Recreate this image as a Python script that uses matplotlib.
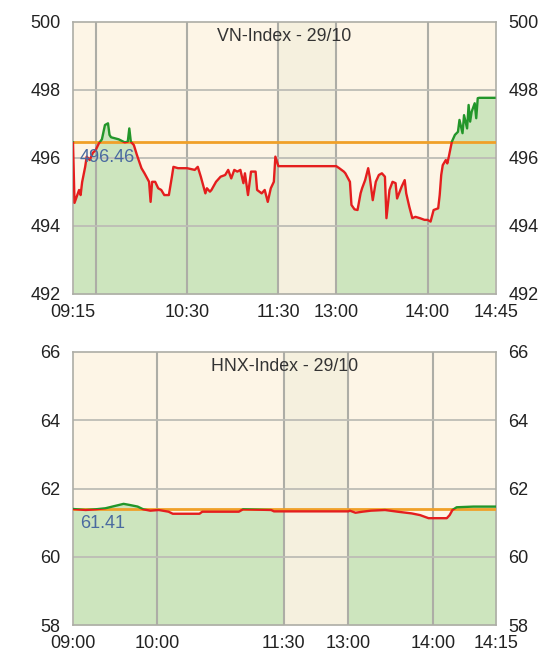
import matplotlib
matplotlib.use("Agg")
import matplotlib.pyplot as plt
from matplotlib.patches import Rectangle
import numpy as np

plt.rcParams['font.family'] = ['Liberation Sans', 'DejaVu Sans']

# ---------------- data ----------------
vn_title = "VN-Index - 29/10"
vn_ref = 496.46
vn_ylim = (492, 500)
vn_yticks = [492, 494, 496, 498, 500]
vn_times = ["09:15", "09:16", "09:19", "09:20", "09:21", "09:23", "09:24", "09:26", "09:28", "09:30",
            "09:32", "09:34", "09:36", "09:38", "09:39", "09:40", "09:45", "09:49", "09:51", "09:52",
            "09:53", "09:55", "09:57", "10:00", "10:02", "10:05", "10:06", "10:07", "10:09", "10:11",
            "10:13", "10:15", "10:18", "10:20", "10:21", "10:24", "10:30", "10:35", "10:37", "10:39",
            "10:42", "10:43", "10:45", "10:46", "10:49", "10:52", "10:55", "10:57", "10:59", "11:01",
            "11:03", "11:05", "11:07", "11:08", "11:10", "11:12", "11:15", "11:16", "11:19", "11:21",
            "11:23", "11:25", "11:27", "11:28", "11:30",
            "13:00", "13:02", "13:05", "13:06", "13:09", "13:10", "13:12", "13:14", "13:16", "13:17",
            "13:19", "13:21", "13:22", "13:24", "13:26", "13:28", "13:30", "13:32", "13:33", "13:35",
            "13:37", "13:39", "13:40", "13:43", "13:45", "13:46", "13:48", "13:50", "13:52", "13:55",
            "13:58", "14:00", "14:02", "14:04", "14:07", "14:08", "14:09", "14:10", "14:12", "14:13",
            "14:14", "14:16", "14:18", "14:20", "14:21", "14:23", "14:24", "14:26", "14:27", "14:28",
            "14:29", "14:31", "14:32", "14:33", "14:34", "14:44"]
vn_values = [496.46, 494.68, 495.06, 494.91, 495.29, 495.74, 496.04, 495.94, 496.15, 496.24,
             496.43, 496.55, 496.97, 497.02, 496.68, 496.61, 496.55, 496.46, 496.48, 496.87,
             496.48, 496.38, 496.09, 495.70, 495.55, 495.30, 494.71, 495.30, 495.30, 495.11,
             495.06, 494.91, 494.91, 495.45, 495.74, 495.70, 495.70, 495.65, 495.74, 495.45,
             494.96, 495.11, 495.01, 495.06, 495.30, 495.45, 495.50, 495.65, 495.40, 495.65,
             495.60, 495.65, 495.26, 495.55, 494.91, 495.60, 495.60, 495.06, 494.96, 495.06,
             494.71, 495.11, 495.30, 496.04, 495.76,
             495.76, 495.70, 495.60, 495.55, 495.30, 494.62, 494.49, 494.47, 494.96, 495.11,
             495.35, 495.70, 495.45, 494.76, 495.30, 495.50, 495.55, 495.45, 494.23, 495.06,
             495.30, 495.26, 494.81, 495.16, 495.35, 494.96, 494.57, 494.23, 494.27, 494.23,
             494.18, 494.18, 494.13, 494.47, 494.52, 494.91, 495.50, 495.79, 495.94, 495.84,
             496.04, 496.48, 496.68, 496.77, 497.12, 496.73, 497.26, 496.87, 497.56, 497.07,
             497.36, 497.61, 497.17, 497.76, 497.77, 497.77]
vn_tick_times = ["09:15", "10:30", "11:30", "13:00", "14:00", "14:45"]
vn_tick_labels = ["09:15", "10:30", "11:30", "13:00", "14:00", "14:45"]
vn_grid_times = ["09:30", "10:30", "11:30", "13:00", "14:00"]

hnx_title = "HNX-Index - 29/10"
hnx_ref = 61.41
hnx_ylim = (58, 66)
hnx_yticks = [58, 60, 62, 64, 66]
hnx_times = ["09:00", "09:09", "09:16", "09:23", "09:30", "09:36", "09:40", "09:46", "09:50", "09:55",
             "10:01", "10:08", "10:11", "10:30", "10:32", "10:45", "10:58", "11:01", "11:21", "11:23",
             "11:30",
             "13:00", "13:01", "13:05", "13:10", "13:16", "13:26", "13:35", "13:45", "13:51", "13:57",
             "14:10", "14:12", "14:14", "14:17", "14:29", "14:45"]
hnx_values = [61.40, 61.37, 61.39, 61.42, 61.49, 61.55, 61.52, 61.47, 61.39, 61.35,
              61.37, 61.32, 61.26, 61.26, 61.32, 61.32, 61.32, 61.39, 61.37, 61.33,
              61.33,
              61.33, 61.35, 61.29, 61.32, 61.35, 61.37, 61.32, 61.27, 61.22, 61.13,
              61.13, 61.22, 61.37, 61.45, 61.47, 61.47]
hnx_tick_times = ["09:00", "10:00", "11:30", "13:00", "14:00", "14:45"]
hnx_tick_labels = ["09:00", "10:00", "11:30", "13:00", "14:00", "14:15"]
hnx_grid_times = ["10:00", "11:30", "13:00", "14:00"]

# ---------------- style ----------------
BG = "#FDF5E6"
LUNCH = "#F5F0DE"
FILL = "#CDE5BE"
RED = "#E41E1E"
GREEN = "#23962A"
ORANGE = "#F0A028"
GRID = "#ADADA6"
HGRID = "#BDBDB6"
LABEL_BLUE = "#4A6AA0"


def to_min(t):
    h, m = t.split(":")
    return int(h) * 60 + int(m)


def make_pos(morning, afternoon, lunch_units):
    m0, m1 = to_min(morning[0]), to_min(morning[1])
    a0 = to_min(afternoon[0])

    def pos(t):
        mm = to_min(t)
        if mm <= m1:
            return mm - m0
        return (m1 - m0) + lunch_units + (mm - a0)
    return pos


def draw(ax, title, ref, ylim, yticks, times, values, tick_times, tick_labels,
         grid_times, pos, morning, afternoon):
    x = np.array([pos(t) for t in times], dtype=float)
    y = np.array(values, dtype=float)
    xmin, xmax = pos(morning[0]), pos(afternoon[1])
    ax.set_xlim(xmin, xmax)
    ax.set_ylim(*ylim)
    ax.set_facecolor(BG)
    # lunch band
    ax.axvspan(pos(morning[1]), pos(afternoon[0]), color=LUNCH, zorder=0.5, lw=0)
    # fills per session
    split = to_min(morning[1])
    mins = np.array([to_min(t) for t in times])
    for mask in (mins <= split, mins > split):
        ax.fill_between(x[mask], y[mask], ylim[0], color=FILL, lw=0, zorder=1)
    # grid
    for gt in grid_times:
        ax.axvline(pos(gt), color=GRID, lw=1.5, zorder=2)
    for yt in yticks[1:-1]:
        ax.axhline(yt, color=HGRID, lw=1.3, zorder=2)
    # reference line
    ax.axhline(ref, color=ORANGE, lw=2.0, zorder=2.6)
    # price line, split red/green
    lr, = ax.plot(x, y, color=RED, lw=1.7, zorder=3)
    lg, = ax.plot(x, y, color=GREEN, lw=1.7, zorder=3)
    below = Rectangle((xmin, ylim[0]), xmax - xmin, ref - ylim[0], transform=ax.transData)
    above = Rectangle((xmin, ref), xmax - xmin, ylim[1] - ref, transform=ax.transData)
    lr.set_clip_path(below)
    lg.set_clip_path(above)
    # labels
    ax.text(0.5, 0.948, title, transform=ax.transAxes, ha="center", va="center",
            fontsize=12.8, color="#333333", zorder=4)
    ax.annotate(f"{ref:.2f}", xy=(xmin, ref), xytext=(5, -11), textcoords="offset points",
                ha="left", va="center", fontsize=13, color=LABEL_BLUE, zorder=4)
    ax.set_xticks([pos(t) for t in tick_times])
    ax.set_xticklabels(tick_labels)
    ax.set_yticks(yticks)
    ax.set_yticklabels([str(v) for v in yticks])
    ax.tick_params(axis="both", length=0, labelsize=13, colors="#222222")
    ax.tick_params(axis="y", pad=9, labelright=True)
    ax.tick_params(axis="x", pad=7)
    for s in ax.spines.values():
        s.set_color(GRID)
        s.set_linewidth(1.2)


fig = plt.figure(figsize=(5.57, 6.63), dpi=100)
fig.patch.set_facecolor("white")

ax1 = fig.add_axes([73 / 557, 1 - 294 / 663, 423 / 557, 272 / 663])
ax2 = fig.add_axes([73 / 557, 1 - 625 / 663, 423 / 557, 273 / 663])

vn_morning, vn_afternoon = ("09:15", "11:30"), ("13:00", "14:45")
hnx_morning, hnx_afternoon = ("09:00", "11:30"), ("13:00", "14:45")

draw(ax1, vn_title, vn_ref, vn_ylim, vn_yticks, vn_times, vn_values, vn_tick_times,
     vn_tick_labels, vn_grid_times, make_pos(vn_morning, vn_afternoon, 38),
     vn_morning, vn_afternoon)
draw(ax2, hnx_title, hnx_ref, hnx_ylim, hnx_yticks, hnx_times, hnx_values, hnx_tick_times,
     hnx_tick_labels, hnx_grid_times, make_pos(hnx_morning, hnx_afternoon, 46),
     hnx_morning, hnx_afternoon)

fig.savefig("out.png", dpi=100)
